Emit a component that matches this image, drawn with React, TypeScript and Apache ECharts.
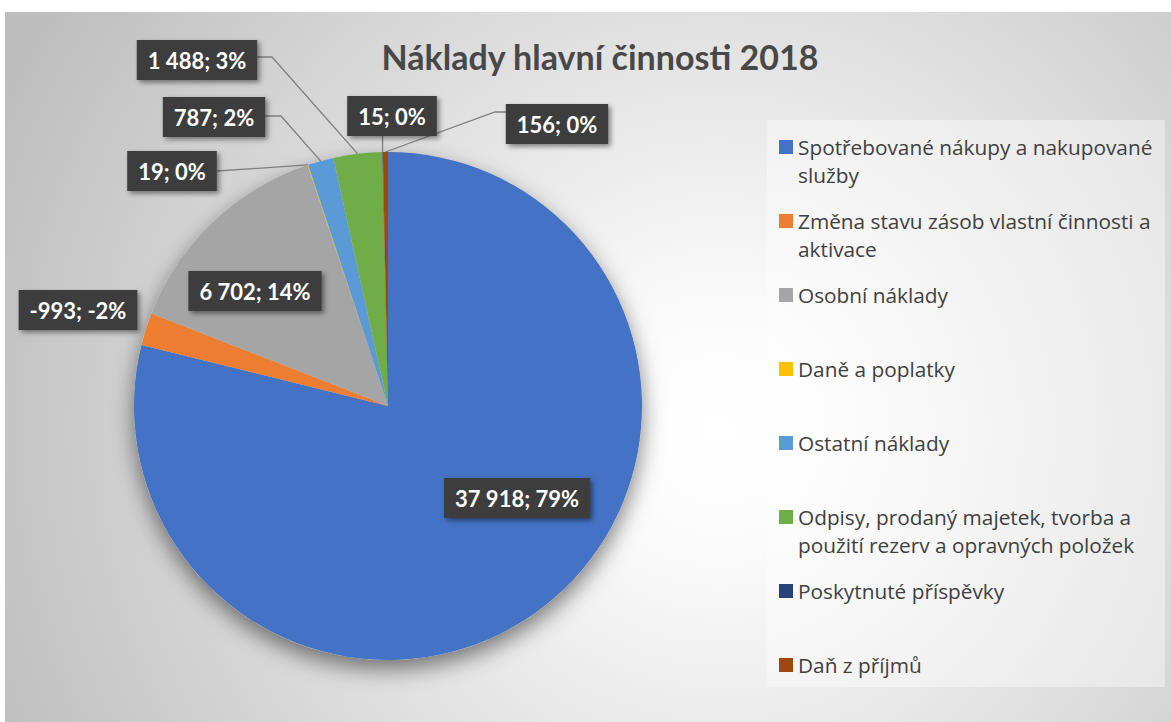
import React, { useEffect, useRef } from "react";
import * as echarts from "echarts";

const titleText = "Náklady hlavní činnosti 2018";

const categories = [
  "Spotřebované nákupy a nakupované služby",
  "Změna stavu zásob vlastní činnosti a aktivace",
  "Osobní náklady",
  "Daně a poplatky",
  "Ostatní náklady",
  "Odpisy, prodaný majetek, tvorba a použití rezerv a opravných položek",
  "Poskytnuté příspěvky",
  "Daň z příjmů",
];

const values = [37918, -993, 6702, 19, 787, 1488, 15, 156];

const legendLines: string[][] = [
  ["Spotřebované nákupy a nakupované", "služby"],
  ["Změna stavu zásob vlastní činnosti a", "aktivace"],
  ["Osobní náklady"],
  ["Daně a poplatky"],
  ["Ostatní náklady"],
  ["Odpisy, prodaný majetek, tvorba a", "použití rezerv a opravných položek"],
  ["Poskytnuté příspěvky"],
  ["Daň z příjmů"],
];

const colors = ["#4472C4", "#ED7D31", "#A5A5A5", "#FFC000", "#5B9BD5", "#70AD47", "#264478", "#9E480E"];

// label placement (layout only)
const labelCenters: number[][] = [
  [517, 498], [78, 310], [255, 291], [172, 171], [214, 117], [197, 60], [392, 116], [557, 124],
];
const labelLineShown = [false, false, false, true, true, true, true, true];
const attachSide = ["", "", "", "right", "right", "right", "bottom", "left"];
const labelElbows: (number[] | null)[] = [null, null, null, null, [281, 116], [272, 57], null, [495, 112]];

const FONT = "Lato, 'Noto Sans', sans-serif";
const LEGEND_FONT = "'Open Sans', 'Noto Sans', sans-serif";

function fmtNum(v: number): string {
  const s = Math.abs(v).toString().replace(/\B(?=(\d{3})+(?!\d))/g, " ");
  return (v < 0 ? "-" : "") + s;
}

export default function App() {
  const ref = useRef<HTMLDivElement>(null);
  useEffect(() => {
    if (!ref.current) return;
    const chart = echarts.init(ref.current, null, { renderer: "svg" });
    const absSum = values.reduce((a, b) => a + Math.abs(b), 0);
    const pieData = categories.map((name, i) => ({
      name,
      value: Math.abs(values[i]),
      itemStyle: { color: colors[i] },
      labelLine: { show: labelLineShown[i] },
    }));
    const option: any = {
      animation: false,
      backgroundColor: "#ffffff",
      graphic: {
        elements: [
          {
            type: "rect",
            z: 0,
            shape: { x: 5, y: 12, width: 1166, height: 710 },
            style: {
              fill: {
                type: "radial",
                x: 720,
                y: 430,
                r: 800,
                global: true,
                colorStops: [
                  { offset: 0, color: "#ffffff" },
                  { offset: 0.15, color: "#fbfbfb" },
                  { offset: 1, color: "#bdbdbd" },
                ],
              },
            },
          },
          {
            type: "rect",
            z: 1,
            shape: { x: 767, y: 120, width: 398, height: 567 },
            style: { fill: "rgba(255,255,255,0.4)" },
          },
        ],
      },
      title: {
        text: titleText,
        left: 595,
        top: 34,
        textAlign: "center",
        textStyle: { fontFamily: FONT, fontWeight: "bold", fontSize: 34, color: "#484848" },
      },
      legend: {
        orient: "vertical",
        left: 779,
        top: 105,
        padding: 0,
        itemGap: -10,
        itemWidth: 14,
        itemHeight: 14,
        icon: "rect",
        selectedMode: false,
        data: categories,
        formatter: (name: string) => {
          const i = categories.indexOf(name);
          const ls = legendLines[i];
          if (ls.length === 1) return "\u00a0\n" + ls[0] + "\n\u00a0";
          return "\u00a0\n" + ls.join("\n");
        },
        textStyle: { fontFamily: LEGEND_FONT, fontSize: 20.8, lineHeight: 28, color: "#404040" },
      },
      series: [
        {
          type: "pie",
          silent: true,
          z: 1,
          center: [388, 406],
          radius: 254,
          label: { show: false },
          labelLine: { show: false },
          itemStyle: {
            color: "#cccccc",
            shadowBlur: 22,
            shadowOffsetY: 9,
            shadowColor: "rgba(0,0,0,0.5)",
          },
          data: [{ name: "", value: absSum }],
        },
        {
          type: "pie",
          z: 2,
          center: [388, 406],
          radius: 254,
          startAngle: 90,
          clockwise: true,
          avoidLabelOverlap: false,
          itemStyle: { borderWidth: 0 },
          label: {
            show: true,
            position: "outside",
            formatter: (p: any) => {
              const raw = values[p.dataIndex];
              const pct = Math.round((Math.abs(raw) / absSum) * 100) * (raw < 0 ? -1 : 1);
              return fmtNum(raw) + "; " + pct + "%";
            },
            fontFamily: FONT,
            fontWeight: "bold",
            fontSize: 22,
            lineHeight: 24,
            color: "#ffffff",
            backgroundColor: "#3d3d3d",
            padding: [8, 11],
            shadowColor: "rgba(0,0,0,0.45)",
            shadowBlur: 5,
            shadowOffsetX: 2.5,
            shadowOffsetY: 2.5,
          },
          labelLine: {
            show: true,
            length: 10,
            length2: 10,
            lineStyle: { color: "#7f7f7f", width: 1.3 },
          },
          labelLayout: (params: any) => {
            const i = params.dataIndex;
            const [cx, cy] = labelCenters[i];
            const w = params.labelRect.width;
            const h = params.labelRect.height;
            const res: any = { x: cx, y: cy, align: "center", verticalAlign: "middle" };
            const pts = params.labelLinePoints;
            if (pts && labelLineShown[i]) {
              const start = pts[0];
              const side = attachSide[i];
              const elbow = labelElbows[i];
              let end: number[];
              if (side === "right") end = [cx + w / 2, elbow ? elbow[1] : cy];
              else if (side === "left") end = [cx - w / 2, elbow ? elbow[1] : cy];
              else end = [start[0], cy + h / 2];
              res.labelLinePoints = [[start[0], start[1]], elbow ? [elbow[0], elbow[1]] : end, end];
            }
            return res;
          },
          data: pieData,
        },
      ],
    };
    chart.setOption(option);
    return () => chart.dispose();
  }, []);
  return (
    <div
      ref={ref}
      style={{ position: "absolute", left: 0, top: 0, width: 1171, height: 722 }}
    />
  );
}
